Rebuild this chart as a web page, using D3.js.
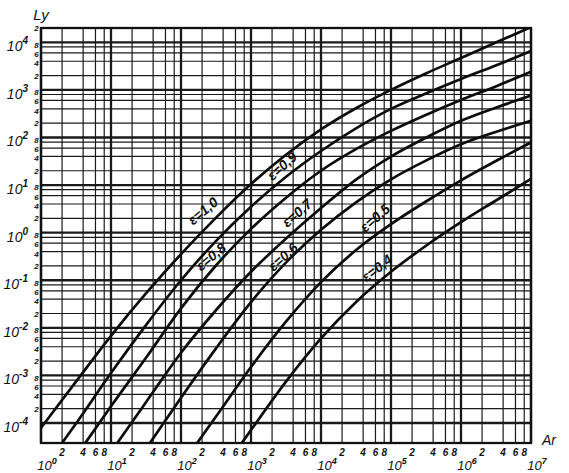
<!DOCTYPE html>
<html>
<head>
<meta charset="utf-8">
<script src="https://cdn.jsdelivr.net/npm/d3@7"></script>
<style>
  body { margin: 0; background: #fff; }
  svg { display: block; }
  text { font-family: "Liberation Sans", "DejaVu Sans", sans-serif; font-style: italic; fill: #111; }
</style>
</head>
<body>
<div id="chart"></div>
<script>
// axis ticks
var arDecades = [0, 1, 2, 3, 4, 5, 6, 7];
var lyDecades = [-4, -3, -2, -1, 0, 1, 2, 3, 4];
var minorSteps = [2, 4, 6, 8];

// curves (Ar, Ly)
var arEps10 = [1, 3.2, 10, 32, 100, 320, 1000, 3200, 1e4, 3.2e4, 1e5, 3.2e5, 1e6, 3.2e6, 1e7];
var lyEps10 = [7.9e-5, 7.6e-4, 6.8e-3, 0.054, 0.355, 2.1, 10.5, 44, 148, 417, 1000, 2240, 4680, 1e4, 2.09e4];

var arEps09 = [2.0, 3.2, 10, 32, 100, 320, 1000, 3200, 1e4, 3.2e4, 1e5, 3.2e5, 1e6, 3.2e6, 1e7];
var lyEps09 = [3.8e-5, 1.0e-4, 1.12e-3, 0.0117, 0.1, 0.68, 3.5, 15.1, 52, 158, 400, 850, 1700, 3300, 6600];

var arEps08 = [4.3, 10, 32, 100, 320, 1000, 3200, 1e4, 3.2e4, 1e5, 3.2e5, 1e6, 3.2e6, 1e7];
var lyEps08 = [3.8e-5, 2.24e-4, 2.4e-3, 0.0257, 0.209, 1.2, 5.5, 20, 57.5, 138, 302, 617, 1200, 2400];

var arEps07 = [12.3, 32, 100, 320, 1000, 3200, 1e4, 3.2e4, 1e5, 3.2e5, 1e6, 3.2e6, 1e7];
var lyEps07 = [3.8e-5, 2.8e-4, 3.0e-3, 0.024, 0.151, 0.76, 3.3, 13.2, 39.8, 100, 224, 427, 760];

var arEps06 = [36, 100, 320, 1000, 3200, 1e4, 3.2e4, 1e5, 3.2e5, 1e6, 3.2e6, 1e7];
var lyEps06 = [3.8e-5, 3.4e-4, 3.8e-3, 0.0347, 0.24, 1.15, 4.4, 13.2, 33, 72, 132, 224];

var arEps05 = [170, 320, 1000, 3200, 1e4, 3.2e4, 1e5, 3.2e5, 1e6, 3.2e6, 1e7];
var lyEps05 = [3.8e-5, 1.4e-4, 1.5e-3, 0.0138, 0.0912, 0.437, 1.51, 4.57, 12.6, 32.4, 79];

var arEps04 = [740, 1000, 3200, 1e4, 3.2e4, 1e5, 3.2e5, 1e6, 3.2e6, 1e7];
var lyEps04 = [3.8e-5, 7.1e-5, 7.6e-4, 6.0e-3, 0.0355, 0.151, 0.537, 1.66, 4.8, 13.5];

var curveNames = ["ε=1,0", "ε=0,9", "ε=0,8", "ε=0,7", "ε=0,6", "ε=0,5", "ε=0,4"];

var series = [
  { name: curveNames[0], ar: arEps10, ly: lyEps10 },
  { name: curveNames[1], ar: arEps09, ly: lyEps09 },
  { name: curveNames[2], ar: arEps08, ly: lyEps08 },
  { name: curveNames[3], ar: arEps07, ly: lyEps07 },
  { name: curveNames[4], ar: arEps06, ly: lyEps06 },
  { name: curveNames[5], ar: arEps05, ly: lyEps05 },
  { name: curveNames[6], ar: arEps04, ly: lyEps04 }
];

// where each label sits, in data coords, plus rotation
var labelSpots = [
  { ar: 206, ly: 2.86, rot: -40 },
  { ar: 2770, ly: 25, rot: -42 },
  { ar: 268, ly: 0.31, rot: -40 },
  { ar: 4540, ly: 2.6, rot: -41 },
  { ar: 2860, ly: 0.31, rot: -42 },
  { ar: 59000, ly: 2.04, rot: -41 },
  { ar: 63000, ly: 0.18, rot: -38 }
];

var W = 569, H = 473;
var padL = 41, padR = 531, padT = 28, padB = 443;

var svg = d3.select("#chart").append("svg").attr("width", W).attr("height", H);
svg.append("rect").attr("width", W).attr("height", H).attr("fill", "#fff");

var x = d3.scaleLog().domain([1, 1e7]).range([padL, padR]);
var y = d3.scaleLog().domain([3.8e-5, 2e4]).range([padB, padT]);

function mantissa(d) {
  return Math.round(d / Math.pow(10, Math.floor(Math.log10(d) + 1e-9)));
}

var grid = svg.append("g").attr("stroke", "#1a1a1a").attr("fill", "none");

// vertical grid
var xMinor = [];
arDecades.slice(0, -1).forEach(function(d) {
  minorSteps.forEach(function(m) { xMinor.push(m * Math.pow(10, d)); });
});
grid.selectAll("line.vmin").data(xMinor).enter().append("line")
  .attr("x1", function(d) { return x(d); }).attr("x2", function(d) { return x(d); })
  .attr("y1", padT).attr("y2", padB).attr("stroke-width", 1.2);
grid.selectAll("line.vmaj").data(arDecades).enter().append("line")
  .attr("x1", function(d) { return x(Math.pow(10, d)); }).attr("x2", function(d) { return x(Math.pow(10, d)); })
  .attr("y1", padT).attr("y2", padB).attr("stroke-width", 2.3);

// horizontal grid
var yMinor = [];
lyDecades.slice(0, -1).forEach(function(d) {
  minorSteps.forEach(function(m) { yMinor.push(m * Math.pow(10, d)); });
});
grid.selectAll("line.hmin").data(yMinor).enter().append("line")
  .attr("x1", padL).attr("x2", padR)
  .attr("y1", function(d) { return y(d); }).attr("y2", function(d) { return y(d); })
  .attr("stroke-width", 1.2);
grid.selectAll("line.hmaj").data(lyDecades).enter().append("line")
  .attr("x1", padL).attr("x2", padR)
  .attr("y1", function(d) { return y(Math.pow(10, d)); }).attr("y2", function(d) { return y(Math.pow(10, d)); })
  .attr("stroke-width", 2.3);

svg.append("rect").attr("x", padL).attr("y", padT)
  .attr("width", padR - padL).attr("height", padB - padT)
  .attr("fill", "none").attr("stroke", "#111").attr("stroke-width", 2.3);

// curves
svg.append("clipPath").attr("id", "plotclip").append("rect")
  .attr("x", padL).attr("y", padT).attr("width", padR - padL).attr("height", padB - padT);

var line = d3.line()
  .x(function(p) { return x(p[0]); })
  .y(function(p) { return y(p[1]); })
  .curve(d3.curveMonotoneX);

svg.append("g").attr("clip-path", "url(#plotclip)")
  .selectAll("path").data(series).enter().append("path")
  .attr("d", function(s) { return line(d3.zip(s.ar, s.ly)); })
  .attr("fill", "none").attr("stroke", "#0d0d0d").attr("stroke-width", 2.7)
  .attr("stroke-linejoin", "round");

// curve labels
svg.append("g").selectAll("text").data(series).enter().append("text")
  .attr("transform", function(s, i) {
    var p = labelSpots[i];
    return "translate(" + x(p.ar) + "," + y(p.ly) + ") rotate(" + p.rot + ")";
  })
  .attr("text-anchor", "middle").attr("dy", "0.35em")
  .attr("font-size", 14).attr("font-weight", "bold")
  .text(function(s) { return s.name; });

// y axis labels
var yLab = svg.append("g");
lyDecades.forEach(function(d) {
  var t = yLab.append("text").attr("x", 28).attr("y", y(Math.pow(10, d)) + 9)
    .attr("text-anchor", "end").attr("font-size", 14);
  t.append("tspan").text("10");
  t.append("tspan").attr("dy", -7).attr("font-size", 10).attr("font-weight", "bold").text(d);
});
// 8 and 6 sit very close on log paper, nudge them apart a little
var nudge = { 8: -2.2, 6: 1.0, 4: 2.0, 2: 0 };
yLab.selectAll("text.mi").data(yMinor.concat([2e4])).enter().append("text")
  .attr("x", 36.5).attr("y", function(d) { return y(d) + 3 + nudge[mantissa(d)]; })
  .attr("text-anchor", "middle").attr("font-size", 8).attr("font-weight", "bold")
  .text(mantissa);

// x axis labels
var xLab = svg.append("g");
xLab.selectAll("text.mi").data(xMinor).enter().append("text")
  .attr("x", function(d) { return x(d); }).attr("y", padB + 13)
  .attr("text-anchor", "middle").attr("font-size", 10).attr("font-weight", "bold")
  .text(mantissa);
arDecades.forEach(function(d) {
  var t = xLab.append("text").attr("x", x(Math.pow(10, d)) + 6).attr("y", padB + 27)
    .attr("text-anchor", "middle").attr("font-size", 13);
  t.append("tspan").text("10");
  t.append("tspan").attr("dy", -6).attr("font-size", 9).attr("font-weight", "bold").text(d);
});

svg.append("text").attr("x", 549).attr("y", 445).attr("text-anchor", "middle")
  .attr("font-size", 14).text("Ar");
svg.append("text").attr("x", 41).attr("y", 20).attr("text-anchor", "middle")
  .attr("font-size", 15).text("Ly");
</script>
</body>
</html>
